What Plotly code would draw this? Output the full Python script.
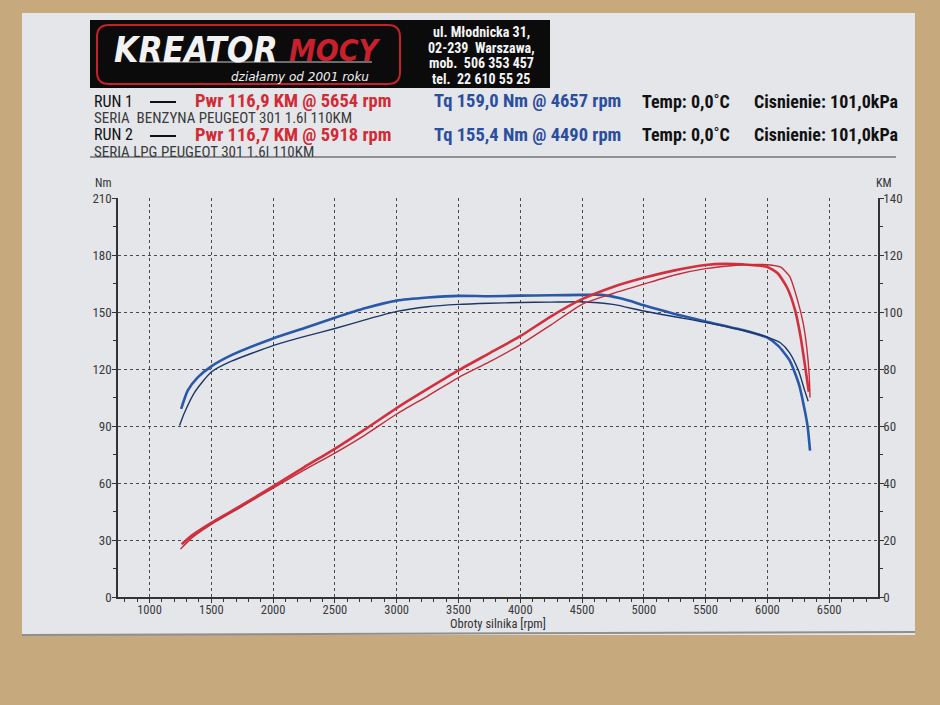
import plotly.graph_objects as go

# ---------------- data (read from the dyno sheet) ----------------
rpm_tq1 = [1256, 1310, 1392, 1500, 1663, 2000, 2250, 2500, 2750, 3000, 3250, 3500, 3750,
           4000, 4250, 4500, 4657, 4800, 4900, 5000, 5250, 5500, 5800, 6000, 6090, 6180, 6255,
           6300, 6325, 6345]
tq1 = [99.0, 108.7, 115.7, 121.4, 127.3, 136.1, 141.5, 147.0, 152.1, 156.0, 157.6, 158.5, 158.3,
       158.6, 158.8, 159.0, 159.0, 157.4, 155.6, 153.5, 149.0, 145.0, 140.5, 136.5, 132.0, 124.5, 112.0,
       99.0, 90.0, 77.0]

rpm_tq2 = [1243, 1283, 1365, 1500, 1663, 2000, 2250, 2500, 2750, 3000, 3250, 3500, 3750,
           4000, 4250, 4490, 4750, 5000, 5250, 5518, 5822, 6000, 6105, 6180, 6255, 6300, 6330]
tq2 = [90.3, 97.0, 107.7, 118.4, 124.1, 132.3, 137.0, 141.3, 146.0, 150.3, 152.8, 154.0, 154.6,
       155.0, 155.2, 155.4, 154.0, 150.5, 147.5, 144.3, 140.0, 136.8, 133.8, 128.5, 118.5, 109.0, 103.0]

rpm_pw1 = [1260, 1350, 1500, 1750, 2000, 2250, 2500, 2750, 3000, 3250, 3500, 3750, 4000, 4250,
           4500, 4750, 5000, 5250, 5500, 5654, 5800, 6000, 6085, 6160, 6225, 6270, 6305, 6335]
pw1 = [18.5, 21.8, 26.0, 32.3, 38.8, 45.5, 52.0, 59.0, 66.3, 73.0, 79.5, 85.5, 91.5, 98.5,
       104.5, 108.8, 112.0, 114.6, 116.5, 116.9, 116.7, 115.8, 113.5, 108.5, 100.5, 91.0, 81.0, 72.0]

rpm_pw2 = [1250, 1350, 1500, 1750, 2000, 2250, 2500, 2750, 3000, 3250, 3500, 3750, 4000, 4250,
           4500, 4750, 5000, 5250, 5500, 5750, 5918, 6000, 6105, 6180, 6245, 6290, 6320, 6338, 6345]
pw2 = [16.8, 21.0, 25.5, 31.8, 38.2, 44.5, 50.5, 57.0, 64.2, 70.5, 77.0, 82.5, 88.5, 95.5,
       102.7, 106.5, 109.8, 113.0, 115.2, 116.4, 116.7, 116.6, 115.8, 112.5, 104.0, 96.0, 87.0, 78.0, 70.0]

x_ticks = [1000, 1500, 2000, 2500, 3000, 3500, 4000, 4500, 5000, 5500, 6000, 6500]
nm_ticks = [0, 30, 60, 90, 120, 150, 180, 210]
km_ticks = [0, 20, 40, 60, 80, 100, 120, 140]

header_rows = [
    ("RUN 1", "Pwr 116,9 KM @ 5654 rpm", "Tq 159,0 Nm @ 4657 rpm", "Temp: 0,0˚C",
     "Cisnienie: 101,0kPa", "SERIA  BENZYNA PEUGEOT 301 1.6l 110KM"),
    ("RUN 2", "Pwr 116,7 KM @ 5918 rpm", "Tq 155,4 Nm @ 4490 rpm", "Temp: 0,0˚C",
     "Cisnienie: 101,0kPa", "SERIA LPG PEUGEOT 301 1.6l 110KM"),
]
contact_lines = ["ul. Młodnicka 31,", "02-239  Warszawa,", "mob.  506 353 457", "tel.  22 610 55 25"]

# ---------------- layout helpers ----------------
W, H = 940, 705
L, R, T, B = 118, 878, 198, 597
PW, PH = R - L, B - T


def px(x):
    return (x - L) / PW


def py(y):
    return (B - y) / PH


NARROW = "Liberation Sans Narrow, Roboto Condensed, DejaVu Sans Condensed, Arial Narrow, sans-serif"
PAPER = "#e4e6ea"
WOOD = "#c6a97c"
RED = "#d2303f"
RED2 = "#c42c3a"
BLUE = "#2a58a8"
NAVY = "#1f3768"

fig = go.Figure()

fig.add_trace(go.Scatter(x=rpm_pw1, y=pw1, yaxis="y2", mode="lines",
                         line=dict(color=RED, width=2.6, shape="spline", smoothing=0.6),
                         hoverinfo="skip", showlegend=False))
fig.add_trace(go.Scatter(x=rpm_pw2, y=pw2, yaxis="y2", mode="lines",
                         line=dict(color=RED2, width=1.4, shape="spline", smoothing=0.6),
                         hoverinfo="skip", showlegend=False))
fig.add_trace(go.Scatter(x=rpm_tq1, y=tq1, mode="lines",
                         line=dict(color=BLUE, width=2.6, shape="spline", smoothing=0.6),
                         hoverinfo="skip", showlegend=False))
fig.add_trace(go.Scatter(x=rpm_tq2, y=tq2, mode="lines",
                         line=dict(color=NAVY, width=1.4, shape="spline", smoothing=0.6),
                         hoverinfo="skip", showlegend=False))

shapes = []
# sheet of paper
shapes.append(dict(type="rect", xref="paper", yref="paper", x0=px(22), x1=px(915), y0=py(13), y1=py(635),
                   fillcolor=PAPER, line=dict(width=0), layer="below"))
shapes.append(dict(type="line", xref="paper", yref="paper", x0=px(22), x1=px(915), y0=py(635), y1=py(632),
                   line=dict(color="#8f8f8f", width=2), layer="below"))
# logo block
shapes.append(dict(type="rect", xref="paper", yref="paper", x0=px(90), x1=px(550), y0=py(20), y1=py(88),
                   fillcolor="#0b0b0b", line=dict(width=0), layer="below"))


def rounded(x0, y0, x1, y1, r):
    pts = [(x0 + r, y0), (x1 - r, y0), (x1, y0), (x1, y0 + r), (x1, y1 - r), (x1, y1), (x1 - r, y1),
           (x0 + r, y1), (x0, y1), (x0, y1 - r), (x0, y0 + r), (x0, y0)]
    p = [(px(a), py(b)) for a, b in pts]
    return ("M {0} {1} L {2} {3} Q {4} {5} {6} {7} L {8} {9} Q {10} {11} {12} {13} "
            "L {14} {15} Q {16} {17} {18} {19} L {20} {21} Q {22} {23} {0} {1} Z").format(
        *[c for pt in p for c in pt])


shapes.append(dict(type="path", xref="paper", yref="paper", path=rounded(97, 25, 400, 84, 12),
                   fillcolor="rgba(0,0,0,0)", line=dict(color="#c8202c", width=2), layer="below"))
shapes.append(dict(type="line", xref="paper", yref="paper", x0=px(140), x1=px(372), y0=py(62), y1=py(62),
                   line=dict(color="#cccccc", width=1), layer="below"))
# header separator line
shapes.append(dict(type="line", xref="paper", yref="paper", x0=px(90), x1=px(896), y0=py(157), y1=py(157),
                   line=dict(color="#3a3a3a", width=1.2), layer="below"))
# legend dashes
for yy in (102, 136):
    shapes.append(dict(type="line", xref="paper", yref="paper", x0=px(150), x1=px(176), y0=py(yy), y1=py(yy),
                       line=dict(color="#111111", width=2), layer="below"))

ann = []


def text(x, y, s, size, color, anchor="left", family=NARROW, bold=False, italic=False):
    t = s
    if bold:
        t = "<b>" + t + "</b>"
    if italic:
        t = "<i>" + t + "</i>"
    ann.append(dict(xref="paper", yref="paper", x=px(x), y=py(y), text=t, showarrow=False,
                    xanchor=anchor, yanchor="middle", font=dict(size=size, color=color, family=family)))


# logo texts
text(112, 50, "KREATOR", 35, "#f2f2f2", family="DejaVu Sans Condensed, sans-serif", bold=True, italic=True)
text(287, 50, "MOCY", 30, "#c8202c", family="DejaVu Sans Condensed, sans-serif", bold=True, italic=True)
text(300, 77, "działamy od 2001 roku", 12, "#f0f0f0", anchor="center", italic=True,
     family="DejaVu Sans, sans-serif")
for i, line in enumerate(contact_lines):
    text(481, 32 + i * 15.6, line, 14, "#f4f4f4", anchor="center", bold=True)

# header rows
for i, row in enumerate(header_rows):
    y0 = 101 + i * 34
    run, pwr, tq, temp, pres, desc = row
    text(92, y0, run, 16, "#111111")
    text(193, y0, pwr, 18.5, "#d12b35", bold=True)
    text(432, y0, tq, 18.5, "#2b4e9e", bold=True)
    text(640, y0, temp, 18, "#111111", bold=True)
    text(752, y0, pres, 18, "#111111", bold=True)
    text(92, y0 + 17, desc, 15, "#3a3a3a")

# axis captions
text(103, 183, "Nm", 12, "#333333", anchor="center")
text(884, 183, "KM", 12, "#333333", anchor="center")
text(498, 623, "Obroty silnika [rpm]", 12.5, "#333333", anchor="center")

AX = "#333333"
fig.update_layout(
    width=W, height=H, autosize=False,
    margin=dict(l=L, r=W - R, t=T, b=H - B, pad=0),
    paper_bgcolor=WOOD, plot_bgcolor=PAPER,
    shapes=shapes, annotations=ann,
    font=dict(family=NARROW, color="#333333", size=13),
    xaxis=dict(range=[745, 6895], tickvals=x_ticks, ticktext=[str(v) for v in x_ticks],
               showgrid=True, gridcolor="#4a4a4a", gridwidth=1, griddash="3px,3px",
               showline=True, linecolor=AX, linewidth=1.5, zeroline=False,
               ticks="outside", ticklen=4, tickcolor=AX, tickfont=dict(size=12.5, color="#3a3a3a"),
               ticklabelstandoff=-4,
               minor=dict(dtick=100, tick0=0, ticks="outside", ticklen=3, tickcolor=AX, showgrid=False)),
    yaxis=dict(range=[0, 210], tickvals=nm_ticks, ticktext=[str(v) for v in nm_ticks],
               showgrid=True, gridcolor="#4a4a4a", gridwidth=1, griddash="3px,3px",
               showline=True, linecolor=AX, linewidth=1.5, zeroline=False,
               ticks="outside", ticklen=4, tickcolor=AX, tickfont=dict(size=13, color="#3a3a3a"),
               ticklabelstandoff=-2,
               minor=dict(dtick=15, tick0=0, ticks="outside", ticklen=3, tickcolor=AX, showgrid=False)),
    yaxis2=dict(range=[0, 140], overlaying="y", side="right", tickvals=km_ticks,
                ticktext=[str(v) for v in km_ticks], showgrid=False,
                showline=True, linecolor=AX, linewidth=1.5, zeroline=False,
                ticks="outside", ticklen=4, tickcolor=AX, tickfont=dict(size=13, color="#3a3a3a"),
                ticklabelstandoff=-3,
                minor=dict(dtick=10, tick0=0, ticks="outside", ticklen=3, tickcolor=AX, showgrid=False)),
)

fig.write_html("out.html", config={"displayModeBar": False},
               post_script="document.body.style.margin='0px';")
